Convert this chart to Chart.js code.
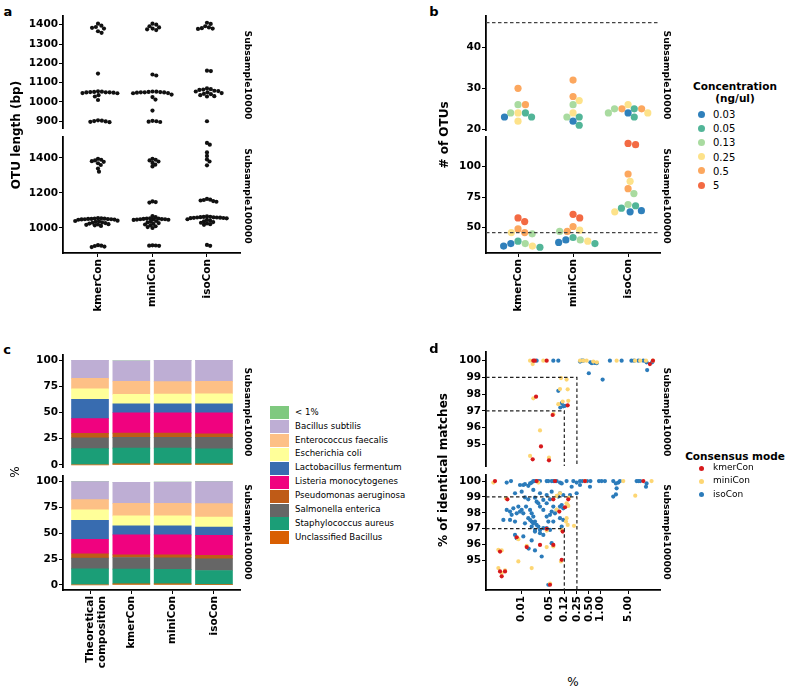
<!DOCTYPE html>
<html><head><meta charset="utf-8">
<script src="https://cdn.jsdelivr.net/npm/chart.js@4.4.1/dist/chart.umd.min.js"></script>
<style>
body{margin:0;background:#fff;font-family:'DejaVu Sans',sans-serif;}
#fig{position:relative;width:800px;height:694px;overflow:hidden;background:#fff;}
canvas{position:absolute;}
.t{position:absolute;white-space:nowrap;color:#000;line-height:1.1;}
.sw{position:absolute;}
</style></head><body><div id="fig"></div>
<script>
// ---------------- DATA ----------------
const CATS = ['kmerCon','miniCon','isoCon'];
// Panel a: OTU length (bp)
const A_TICKS_TOP = [900,1000,1100,1200,1300,1400];
const A_TICKS_BOT = [1000,1200,1400];
const A_TOP_KMER = [1405,1395,1388,1384,1380,1366,1358,1147,1055,1053,1052,1051,1050,1050,1049,1048,1046,1045,1035,1028,1010,905,903,901,899,897,895];
const A_TOP_MINI = [1405,1400,1392,1386,1380,1376,1372,1142,1137,1054,1053,1052,1051,1050,1050,1049,1048,1046,1045,1038,1025,1012,955,902,900,898,896];
const A_TOP_ISO  = [1410,1404,1392,1386,1382,1380,1378,1162,1160,1070,1066,1064,1062,1058,1056,1054,1050,1046,1042,1040,1035,1030,1028,900];
const A_BOT_KMER = [1395,1390,1386,1382,1378,1370,1360,1340,1322,1056,1055,1054,1053,1052,1052,1051,1050,1050,1049,1048,1047,1042,1040,1038,1035,1032,1030,1028,1025,1022,1020,1018,1015,1012,902,899,897,894,891];
const A_BOT_MINI = [1395,1390,1386,1380,1372,1362,1352,1152,1148,1145,1068,1062,1055,1054,1053,1052,1051,1050,1050,1049,1048,1047,1046,1040,1036,1032,1028,1024,1020,1015,1010,1005,1000,901,900,899,898];
const A_BOT_ISO  = [1486,1476,1432,1412,1392,1380,1358,1166,1162,1160,1157,1154,1150,1066,1064,1063,1062,1061,1060,1060,1059,1058,1057,1056,1055,1050,1046,1042,1038,1034,1030,1026,1022,1018,903,898];

// Panel b: # of OTUs, concentration index into CONC_LABELS
const CONC_LABELS = ['0.03','0.05','0.13','0.25','0.5','5'];
const CONC_COLORS = ['#2f80bb','#52b598','#a9dba0','#fde28a','#fca75e','#f36a43'];
const B_TICKS_TOP = [20,30,40];
const B_TICKS_BOT = [50,75,100];
const B_TRUE_OTUS = 46;
const B_TOP_KMER = [30,26,26,24,24,24,23,23,22];
const B_TOP_KMER_C = [4,2,4,3,1,2,1,0,3];
const B_TOP_MINI = [32,28,27,26,24,23,23,22,21];
const B_TOP_MINI_C = [4,4,3,2,3,1,2,0,1];
const B_TOP_ISO  = [26,25,25,25,25,24,24,24,23];
const B_TOP_ISO_C = [3,1,4,4,2,0,3,2,1];
const B_BOT_KMER = [58,55,49,46,46,45,39,37,37,35,35,34];
const B_BOT_KMER_C = [5,5,4,4,3,2,1,2,0,3,0,1];
const B_BOT_MINI = [61,58,51,48,47,47,42,40,40,39,38,37];
const B_BOT_MINI_C = [5,5,4,3,4,2,1,2,0,3,0,1];
const B_BOT_ISO  = [119,118,94,88,82,78,69,68,66,64,63,63];
const B_BOT_ISO_C = [5,5,4,3,4,2,2,1,1,0,0,3];

// Panel c: composition (%), in legend order
const SPECIES = ['< 1%','Bacillus subtilis','Enterococcus faecalis','Escherichia coli','Lactobacillus fermentum','Listeria monocytogenes','Pseudomonas aeruginosa','Salmonella enterica','Staphylococcus aureus','Unclassified  Bacillus'];
const SPECIES_COLORS = ['#7fc97f','#beaed4','#fdc086','#ffff99','#386cb0','#f0027f','#bf5b17','#666666','#1b9e77','#d95f02'];
const C_CATS = [['Theoretical','composition'],'kmerCon','miniCon','isoCon'];
const C_TICKS = [0,25,50,75,100];
const C_THEO     = [0,17.4,9.9,10.1,18.4,14.1,4.2,10.4,15.5,0];
const C_TOP_KMER = [0,19.6,12.5,9.0,8.6,19.5,4.0,10.3,15.0,1.0];
const C_TOP_MINI = [0,20.2,12.0,9.2,8.6,19.5,4.0,10.3,15.0,1.0];
const C_TOP_ISO  = [0,20.0,11.8,9.7,8.6,20.0,3.4,10.9,14.4,1.0];
const C_BOT_KMER = [0,20.4,12.2,9.7,8.7,19.4,2.5,11.3,14.2,1.0];
const C_BOT_MINI = [0,20.4,12.2,9.7,8.7,19.4,2.8,11.3,14.0,1.0];
const C_BOT_ISO  = [0,21.4,12.9,9.7,8.1,19.3,3.5,11.3,13.6,0.3];

// Panel d: [% abundance, % identity]
const D_COLORS = ['#d7191c','#fdd673','#2b7bba'];
const D_XTICKS = [0.01,0.05,0.12,0.25,0.5,1,5];
const D_XLABELS = ['0.01','0.05','0.12','0.25','0.50','1.00','5.00'];
const D_YTICKS = [95,96,97,98,99,100];
const D_TOP_KMER = [[0.0231,97.85],[0.0308,94.87],[0.019,94.1],[0.0491,94.04],[0.0608,96.75],[0.146,97.33],[0.0197,100],[0.0429,100],[0.0215,100],[17.6,99.8],[21,100]];
const D_TOP_MINI = [[0.019,99.8],[0.0197,97.75],[0.0291,95.83],[0.0163,94.3],[0.0491,94.2],[0.0632,96.8],[0.0989,98.96],[0.137,98.87],[0.0933,98.3],[0.146,98.29],[0.109,97.56],[0.151,97.6],[0.0846,97.4],[0.0353,100],[0.0163,100],[0.3,100],[0.36,100],[0.44,100],[0.65,99.95],[0.8,99.9],[2.53,100],[7.4,100],[10,100],[14,100],[21,100]];
const D_TOP_ISO  = [[0.0239,100],[0.0632,100],[0.0846,100],[0.0846,98.2],[0.103,97.46],[0.113,97.27],[0.125,97.3],[0.095,97.2],[0.3,99.95],[0.33,100],[0.36,100],[0.5,99.25],[0.55,99.9],[0.6,99.85],[0.7,99.87],[0.79,99.85],[1.12,98.87],[1.71,100],[3.39,100],[6,100],[7,100],[9,100],[12,100],[14.5,99.9],[15,99.44],[20,99.9]];
const D_BOT_KMER = [[0.00211,100],[0.0239,100],[0.0697,100],[0.00434,98.85],[0.0632,98.85],[0.0897,98.08],[0.125,98.35],[0.151,98.85],[0.109,96.82],[0.0429,96.99],[0.00748,96.46],[0.0134,95.84],[0.0632,95.98],[0.0291,95.98],[0.103,95.04],[0.00283,95.56],[0.00283,94.31],[0.00312,94.0],[0.00379,94.31],[0.0521,93.47],[12.0,100],[0.4,100]];
const D_BOT_MINI = [[0.00192,99.9],[0.0264,99.9],[0.4,100],[3.73,100],[19.4,100],[7.5,99.08],[0.00402,98.91],[0.0933,99.23],[0.0768,99.06],[0.137,98.6],[0.151,98.43],[0.146,98.49],[0.132,97.45],[0.146,97.24],[0.137,97.66],[0.211,97.18],[0.157,98.95],[0.103,96.92],[0.0429,96.88],[0.00824,96.34],[0.0134,95.92],[0.0632,95.88],[0.0429,95.84],[0.0989,94.94],[0.00824,94.94],[0.00257,95.67],[0.00312,95.63],[0.00257,94.52],[0.00312,94.21],[0.00379,94.37],[0.0179,94.52],[0.0521,93.55],[0.0768,98.2]];
const D_BOT_ISO  = [[0.00418,99.9],[0.00537,100],[0.00908,99.75],[0.011,99.75],[0.0121,99.8],[0.0147,99.7],[0.0163,99.85],[0.0179,99.9],[0.0197,100],[0.0217,100],[0.0264,100],[0.0291,100],[0.0429,100],[0.0473,100],[0.0574,100],[0.0632,100],[0.0768,100],[0.0933,99.9],[0.103,99.85],[0.137,100],[0.184,99.64],[0.203,100],[0.246,99.9],[0.299,99.75],[0.3,100],[0.35,100],[0.45,100],[0.535,99.64],[0.55,100],[0.906,100],[1.06,100],[1.28,100],[2.08,100],[2.43,99.85],[2.53,99.54],[2.79,99.9],[2.08,99.02],[2.43,99.16],[3.07,100],[8.11,100],[14.0,99.64],[14.5,99.85],[10,100],[9,100],
[0.00678,99.23],[0.01,99.33],[0.0121,98.97],[0.0197,99.44],[0.0147,98.85],[0.0217,98.95],[0.0291,99.23],[0.0429,99.12],[0.0574,99.33],[0.0933,99.23],[0.0846,99.02],[0.113,99.12],[0.167,99.12],[0.246,99.23],
[0.00418,98.18],[0.00507,98.08],[0.00615,98.28],[0.00824,98.39],[0.01,98.18],[0.0129,98.39],[0.0163,98.18],[0.0179,97.97],[0.0239,98.7],[0.0264,98.6],[0.0291,98.39],[0.0353,98.81],[0.0429,98.6],[0.0521,98.85],[0.0632,98.39],[0.0768,98.18],[0.0933,98.39],[0.103,98.49],[0.113,98.28],[0.0574,98.08],[0.0521,97.87],[0.0697,97.97],[0.0429,97.76],[0.0353,98.18],[0.0197,97.76],[0.0147,97.66],[0.0163,97.55],[0.0179,97.45],[0.0197,97.34],[0.0217,97.45],[0.0239,97.24],[0.0264,97.13],[0.0291,96.92],[0.0353,97.03],[0.0429,97.03],[0.0473,97.45],[0.0632,97.45],[0.0933,97.66],[0.113,97.55],[0.103,97.13],[0.0521,96.92],[0.0179,97.13],[0.0217,96.92],[0.0217,96.82],[0.00678,97.45],[0.0121,97.34],[0.00344,97.55],[0.00507,97.55],[0.00748,97.97],[0.00558,97.87],[0.00908,98.08],[0.011,97.97],
[0.00678,96.61],[0.00748,96.4],[0.011,96.51],[0.0179,96.26],[0.0217,95.63],[0.0321,95.25],[0.0574,96.09],[0.0473,93.47],[0.0291,96.72],[0.0353,96.61],[0.015,95.75]];
const D_DASH_HI = 99, D_DASH_LO = 97, D_DASH_HI_X = 0.25, D_DASH_LO_X = 0.12;

// ---------------- HELPERS ----------------
const FONT = "'DejaVu Sans', sans-serif";
const fig = document.getElementById('fig');
const PADT = 8, PADR = 6;

function txt(s, x, y, o = {}) {
  const d = document.createElement('div');
  d.className = 't';
  d.textContent = s;
  d.style.fontSize = (o.size || 10) + 'px';
  d.style.fontWeight = o.bold ? 'bold' : 'normal';
  d.style.left = x + 'px';
  d.style.top = y + 'px';
  let tr = o.left ? 'translate(0,-50%)' : 'translate(-50%,-50%)';
  if (o.rot) tr += ' rotate(' + o.rot + 'deg)';
  d.style.transform = tr;
  fig.appendChild(d);
  return d;
}
function swatch(x, y, w, h, color, round) {
  const d = document.createElement('div');
  d.className = 'sw';
  d.style.left = (x - (round ? w / 2 : 0)) + 'px';
  d.style.top = (y - h / 2) + 'px';
  d.style.width = w + 'px'; d.style.height = h + 'px';
  d.style.background = color;
  if (round) d.style.borderRadius = '50%';
  fig.appendChild(d);
}

const tickFont = { family: FONT, size: 10.5, weight: 'bold' };
const tickGrid = { display: true, drawOnChartArea: false, drawTicks: true, tickLength: 4, color: '#000', lineWidth: 1, offset: false };
const spine = { display: true, color: '#000', width: 1.8 };

function axisY(min, max, ticks, yW) {
  return {
    type: 'linear', min, max,
    afterBuildTicks: s => { s.ticks = ticks.map(v => ({ value: v })); },
    afterFit: s => { s.width = yW; s.paddingTop = 0; s.paddingBottom = 0; },
    ticks: { color: '#000', font: tickFont, padding: 1, callback: (v, i) => String(ticks[i]) },
    grid: tickGrid, border: spine
  };
}
function axisX(type, min, max, ticks, labels, xH) {
  const show = xH > 0;
  return {
    type, min, max, display: show, offset: false,
    afterBuildTicks: s => { s.ticks = ticks.map(v => ({ value: v })); },
    afterFit: s => { if (show) s.height = xH; s.paddingLeft = 0; s.paddingRight = 0; },
    ticks: { color: '#000', font: tickFont, padding: 2, minRotation: 90, maxRotation: 90, autoSkip: false, callback: (v, i) => labels[i] },
    grid: tickGrid, border: spine
  };
}
function makeChart(p) {
  const left = p.l - p.yW, top = p.t - PADT;
  const w = p.r + PADR - left, h = p.b + (p.xH || 0) - top;
  const cv = document.createElement('canvas');
  cv.width = w; cv.height = h;
  cv.style.left = left + 'px'; cv.style.top = top + 'px';
  cv.style.width = w + 'px'; cv.style.height = h + 'px';
  fig.appendChild(cv);
  return new Chart(cv, {
    type: p.type,
    data: { datasets: p.datasets },
    options: {
      responsive: false, animation: false, events: [],
      layout: { padding: { top: PADT, right: PADR, left: 0, bottom: 0 } },
      plugins: { legend: { display: false }, tooltip: { enabled: false } },
      scales: { x: p.x, y: p.y }
    }
  });
}
// beeswarm layout (pixel space, deterministic)
function swarmOffsets(py, d) {
  const idx = py.map((_, i) => i).sort((a, b) => py[a] - py[b]);
  const placed = [], off = new Array(py.length);
  for (const i of idx) {
    const y = py[i];
    const near = placed.filter(p => Math.abs(p.y - y) < d);
    const cands = [0];
    near.forEach(p => { const dx = Math.sqrt(d * d - (p.y - y) ** 2); cands.push(p.x + dx, p.x - dx); });
    cands.sort((a, b) => Math.abs(a) - Math.abs(b));
    let x = 0;
    for (const c of cands) {
      if (near.every(p => (p.x - c) ** 2 + (p.y - y) ** 2 >= d * d - 0.01)) { x = c; break; }
    }
    placed.push({ x, y }); off[i] = x;
  }
  return off;
}
function applySwarm(chart, diam) {
  const xs = chart.scales.x, ys = chart.scales.y;
  const ppu = xs.getPixelForValue(1) - xs.getPixelForValue(0);
  chart.data.datasets.forEach(ds => {
    if (ds.cat === undefined) return;
    const py = ds.data.map(p => ys.getPixelForValue(p.y));
    const off = swarmOffsets(py, diam);
    ds.data.forEach((p, i) => { p.x = ds.cat + off[i] / ppu; });
  });
  chart.update('none');
}
function ptsDs(cat, vals, colors, r) {
  return { cat, data: vals.map(v => ({ x: cat, y: v })), pointRadius: r, pointBorderWidth: 0,
    pointBackgroundColor: colors, backgroundColor: colors, clip: false };
}

// ---------------- PANEL A ----------------
const AX = [-0.642, 2.606];
const aTop = makeChart({ l: 63, t: 16, r: 240, b: 132, yW: 40, xH: 0, type: 'scatter',
  x: axisX('linear', AX[0], AX[1], [0, 1, 2], CATS, 0), y: axisY(865, 1445, A_TICKS_TOP, 40),
  datasets: [ptsDs(0, A_TOP_KMER, '#111', 2.1), ptsDs(1, A_TOP_MINI, '#111', 2.1), ptsDs(2, A_TOP_ISO, '#111', 2.1)] });
applySwarm(aTop, 3.9);
const aBot = makeChart({ l: 63, t: 137, r: 240, b: 253, yW: 40, xH: 70, type: 'scatter',
  x: axisX('linear', AX[0], AX[1], [0, 1, 2], CATS, 70), y: axisY(857, 1520, A_TICKS_BOT, 40),
  datasets: [ptsDs(0, A_BOT_KMER, '#111', 2.1), ptsDs(1, A_BOT_MINI, '#111', 2.1), ptsDs(2, A_BOT_ISO, '#111', 2.1)] });
applySwarm(aBot, 3.3);

// ---------------- PANEL B ----------------
const BX = [-0.582, 2.58];
function bCol(ci) { return ci.map(i => CONC_COLORS[i]); }
function dashH(y, x0, x1) {
  return { data: [{ x: x0, y }, { x: x1, y }], showLine: true, pointRadius: 0, borderColor: '#444', borderWidth: 1.3, borderDash: [3.5, 2.5], clip: false };
}
const bTop = makeChart({ l: 486, t: 16, r: 660, b: 134, yW: 40, xH: 0, type: 'scatter',
  x: axisX('linear', BX[0], BX[1], [0, 1, 2], CATS, 0), y: axisY(19.84, 47.6, B_TICKS_TOP, 40),
  datasets: [dashH(B_TRUE_OTUS, BX[0], BX[1]),
    ptsDs(0, B_TOP_KMER, bCol(B_TOP_KMER_C), 3.6), ptsDs(1, B_TOP_MINI, bCol(B_TOP_MINI_C), 3.6), ptsDs(2, B_TOP_ISO, bCol(B_TOP_ISO_C), 3.6)] });
applySwarm(bTop, 7.4);
const bBot = makeChart({ l: 486, t: 137, r: 660, b: 253, yW: 40, xH: 70, type: 'scatter',
  x: axisX('linear', BX[0], BX[1], [0, 1, 2], CATS, 70), y: axisY(29.3, 124.3, B_TICKS_BOT, 40),
  datasets: [dashH(B_TRUE_OTUS, BX[0], BX[1]),
    ptsDs(0, B_BOT_KMER, bCol(B_BOT_KMER_C), 3.6), ptsDs(1, B_BOT_MINI, bCol(B_BOT_MINI_C), 3.6), ptsDs(2, B_BOT_ISO, bCol(B_BOT_ISO_C), 3.6)] });
applySwarm(bBot, 7.6);

// ---------------- PANEL C ----------------
const CX = [-0.654, 3.63];
function barSets(cols) {
  const sets = [];
  for (let s = SPECIES.length - 1; s >= 0; s--) {
    sets.push({ label: SPECIES[s], data: cols.map((c, i) => ({ x: i, y: c[s] })),
      backgroundColor: SPECIES_COLORS[s], borderWidth: 0, barThickness: 37 });
  }
  return sets;
}
function cX(xH) { const a = axisX('linear', CX[0], CX[1], [0, 1, 2, 3], C_CATS, xH); a.stacked = true; return a; }
function cY(min, max) { const a = axisY(min, max, C_TICKS, 40); a.stacked = true; return a; }
makeChart({ l: 63, t: 355, r: 240, b: 468, yW: 40, xH: 0, type: 'bar', x: cX(0), y: cY(-3, 105),
  datasets: barSets([C_THEO, C_TOP_KMER, C_TOP_MINI, C_TOP_ISO]) });
makeChart({ l: 63, t: 476, r: 240, b: 590, yW: 40, xH: 80, type: 'bar', x: cX(80), y: cY(-5, 105.5),
  datasets: barSets([C_THEO, C_BOT_KMER, C_BOT_MINI, C_BOT_ISO]) });

// ---------------- PANEL D ----------------
const DX = [0.00125, 31.7];
function dPts(arr, color) {
  return { data: arr.map(([x, y]) => ({ x, y })), pointRadius: 2.1, pointBorderWidth: 0, backgroundColor: color, pointBackgroundColor: color, clip: false };
}
function dDash(yv, xv, ymin) {
  return { data: [{ x: DX[0], y: yv }, { x: xv, y: yv }, { x: xv, y: ymin }], showLine: true, pointRadius: 0,
    borderColor: '#222', borderWidth: 1.2, borderDash: [3.5, 2.5], clip: false };
}
const DY_TOP = [93.7, 100.52], DY_BOT = [93.14, 100.38];
makeChart({ l: 486, t: 352, r: 660, b: 470, yW: 40, xH: 0, type: 'scatter',
  x: axisX('logarithmic', DX[0], DX[1], D_XTICKS, D_XLABELS, 0), y: axisY(DY_TOP[0], DY_TOP[1], D_YTICKS, 40),
  datasets: [dDash(D_DASH_HI, D_DASH_HI_X, DY_TOP[0]), dDash(D_DASH_LO, D_DASH_LO_X, DY_TOP[0]),
    dPts(D_TOP_KMER, D_COLORS[0]), dPts(D_TOP_MINI, D_COLORS[1]), dPts(D_TOP_ISO, D_COLORS[2])] });
makeChart({ l: 486, t: 475, r: 660, b: 590, yW: 40, xH: 45, type: 'scatter',
  x: axisX('logarithmic', DX[0], DX[1], D_XTICKS, D_XLABELS, 45), y: axisY(DY_BOT[0], DY_BOT[1], D_YTICKS, 40),
  datasets: [dDash(D_DASH_HI, D_DASH_HI_X, DY_BOT[0]), dDash(D_DASH_LO, D_DASH_LO_X, DY_BOT[0]),
    dPts(D_BOT_KMER, D_COLORS[0]), dPts(D_BOT_MINI, D_COLORS[1]), dPts(D_BOT_ISO, D_COLORS[2])] });

// ---------------- TEXT ----------------
txt('a', 8, 12, { size: 13, bold: true });
txt('b', 434, 12, { size: 13, bold: true });
txt('c', 7, 350, { size: 13, bold: true });
txt('d', 434, 349, { size: 13, bold: true });
txt('OTU length (bp)', 17, 135, { size: 12, bold: true, rot: -90 });
txt('# of OTUs', 445, 135, { size: 12, bold: true, rot: -90 });
txt('%', 16, 472, { size: 12, rot: -90 });
txt('% of identical matches', 444, 470, { size: 12, bold: true, rot: -90 });
txt('%', 573, 683, { size: 12 });
const STRIPS = [[248, 75, 'Subsample10000'], [248, 196, 'Subsample100000'], [667, 75, 'Subsample10000'], [667, 196, 'Subsample100000'],
  [248, 412, 'Subsample10000'], [248, 532, 'Subsample100000'], [667, 412, 'Subsample10000'], [667, 532, 'Subsample100000']];
STRIPS.forEach(([x, y, s]) => txt(s, x, y, { size: 9.2, bold: true, rot: 90 }));

// legend b
txt('Concentration', 735, 87, { size: 10.5, bold: true });
txt('(ng/ul)', 735, 99, { size: 10.5, bold: true });
CONC_LABELS.forEach((l, i) => {
  const y = 114 + i * 14.2;
  swatch(701, y, 7, 7, CONC_COLORS[i], true);
  txt(l, 713, y, { size: 10, left: true });
});
// legend c
SPECIES.forEach((l, i) => {
  const y = 412.7 + i * 13.9;
  swatch(270, y, 19, 13, SPECIES_COLORS[i], false);
  txt(l, 295, y, { size: 8.6, left: true });
});
// legend d
txt('Consensus mode', 735, 457, { size: 10.5, bold: true });
['kmerCon', 'miniCon', 'isoCon'].forEach((l, i) => {
  const y = 468 + i * 13.3;
  swatch(701, y, 5, 5, D_COLORS[i], true);
  txt(l, 713, y, { size: 9, left: true });
});
</script></body></html>
